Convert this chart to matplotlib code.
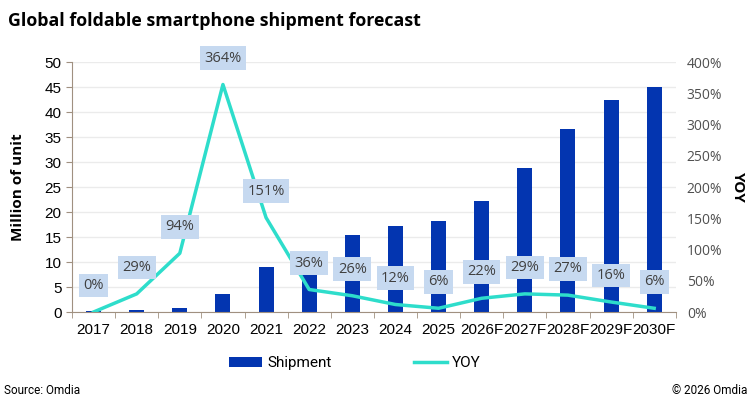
import matplotlib.pyplot as plt
import numpy as np
from matplotlib.ticker import PercentFormatter

plt.rcParams['font.family'] = ['Roboto', 'DejaVu Sans']

years = ['2017', '2018', '2019', '2020', '2021', '2022', '2023', '2024', '2025',
         '2026F', '2027F', '2028F', '2029F', '2030F']
shipment = [0.3, 0.4, 0.8, 3.6, 9.1, 12.3, 15.5, 17.3, 18.3, 22.3, 28.8, 36.6, 42.4, 45.0]
yoy = [0, 29, 94, 364, 151, 36, 26, 12, 6, 22, 29, 27, 16, 6]

bar_color = '#0335B0'
line_color = '#2EDDCB'
box_color = '#C6D9F0'
tick_font = ['Liberation Sans', 'DejaVu Sans']

fig = plt.figure(figsize=(7.5, 4.12), dpi=100)
ax = fig.add_axes([0.096, 0.2427, 0.805, 0.6068])
ax2 = ax.twinx()

x = np.arange(len(years))
ax.bar(x, shipment, 0.35, color=bar_color, label='Shipment', zorder=2)
ax2.plot(x, yoy, color=line_color, lw=2.5, label='YOY', zorder=3)

for i, v in enumerate(yoy):
    ax2.annotate(f'{v}%', (x[i], v), xytext=(0, 19), textcoords='offset points',
                 ha='center', va='center', fontsize=10.5, color='#404040',
                 family=['Open Sans', 'DejaVu Sans'],
                 bbox=dict(boxstyle='square,pad=0.3', fc=box_color, ec='none'),
                 zorder=4)

ax.set_xlim(-0.5, len(years) - 0.5)
ax.set_ylim(0, 50)
ax.set_yticks(np.arange(0, 51, 5))
ax2.set_ylim(0, 400)
ax2.set_yticks(np.arange(0, 401, 50))
ax2.yaxis.set_major_formatter(PercentFormatter(decimals=0))

ax.set_xticks(x)
ax.set_xticklabels(years, fontsize=11, family=tick_font)
ax.set_xticks(np.arange(-0.5, len(years), 1), minor=True)
ax.tick_params(axis='x', which='major', length=0, pad=8)
ax.tick_params(axis='x', which='minor', length=4, color='#A09080')
ax.tick_params(axis='y', labelsize=11, length=4, color='#A09080')
for t in ax.get_yticklabels():
    t.set_family(tick_font)
ax2.tick_params(axis='y', labelsize=10, length=0, labelcolor='#505050', pad=8)
for t in ax2.get_yticklabels():
    t.set_family(['Open Sans', 'DejaVu Sans'])

ax.grid(axis='y', color='#EBEBEB', lw=1, zorder=0)
ax.set_axisbelow(True)
for a in (ax, ax2):
    a.spines['top'].set_visible(False)
    a.spines['right'].set_visible(False)
ax2.spines['left'].set_visible(False)
ax2.spines['bottom'].set_visible(False)
ax.spines['left'].set_color('#A09080')
ax.spines['bottom'].set_color('#A09080')

ax.set_ylabel('Million of unit', fontsize=11, fontweight='bold', labelpad=14,
              family=['Open Sans', 'DejaVu Sans'])
ax2.set_ylabel('YOY', fontsize=11, fontweight='bold', rotation=270, labelpad=16,
               family=['Open Sans', 'DejaVu Sans'])

h1, l1 = ax.get_legend_handles_labels()
h2, l2 = ax2.get_legend_handles_labels()
fig.legend(h1 + h2, l1 + l2, loc='center', bbox_to_anchor=(0.473, 0.118), ncol=2,
           frameon=False, fontsize=11, columnspacing=5.4, handlelength=2.2,
           handletextpad=0.3)

fig.text(0.011, 0.95, 'Global foldable smartphone shipment forecast',
         fontsize=12.8, fontweight='bold', family=['Open Sans', 'DejaVu Sans'],
         va='center')
fig.text(0.006, 0.053, 'Source: Omdia', fontsize=8.5, va='center')
fig.text(0.997, 0.053, '\u00a9 2026 Omdia', fontsize=8.5, va='center', ha='right')

fig.savefig('out.png', dpi=100)
